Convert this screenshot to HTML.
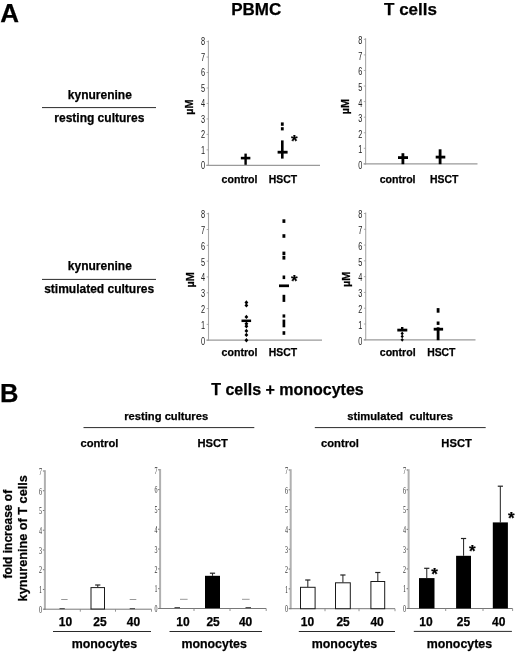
<!DOCTYPE html>
<html lang="en"><head><meta charset="utf-8"><title>Figure</title>
<style>html,body{margin:0;padding:0;background:#fff}body{width:520px;height:654px;overflow:hidden}svg{display:block;filter:blur(0.3px)}text{stroke:#000;stroke-width:0.25px}text.nd{stroke:none}text{font-family:"Liberation Sans",Arial,Helvetica,sans-serif}.serif{font-family:"Liberation Serif","Times New Roman",serif}</style>
</head><body>
<svg width="520" height="654" viewBox="0 0 520 654">
<rect width="520" height="654" fill="#fff"/>
<text x="0.3" y="22" font-size="26" font-weight="bold" text-anchor="start" fill="#000" >A</text>
<text x="0.1" y="402" font-size="25.5" font-weight="bold" text-anchor="start" fill="#000" >B</text>
<text x="256.2" y="14.5" font-size="17" font-weight="bold" text-anchor="middle" fill="#000" >PBMC</text>
<text x="410.5" y="15" font-size="17" font-weight="bold" text-anchor="middle" fill="#000" >T cells</text>
<text x="99.8" y="98.8" font-size="12" font-weight="bold" text-anchor="middle" fill="#000" >kynurenine</text>
<line x1="42" y1="107.6" x2="156" y2="107.6" stroke="#2a2a2a" stroke-width="1"/>
<text x="99.3" y="122.3" font-size="12" font-weight="bold" text-anchor="middle" fill="#000" >resting cultures</text>
<text x="99.8" y="269.7" font-size="12" font-weight="bold" text-anchor="middle" fill="#000" >kynurenine</text>
<line x1="42" y1="279.4" x2="156" y2="279.4" stroke="#2a2a2a" stroke-width="1"/>
<text x="99.2" y="292.9" font-size="12" font-weight="bold" text-anchor="middle" fill="#000" >stimulated cultures</text>
<line x1="208.4" y1="40.6" x2="208.4" y2="165.8" stroke="#a8a8a8" stroke-width="1.1"/>
<line x1="206.4" y1="165.3" x2="320" y2="165.3" stroke="#9a9a9a" stroke-width="1.3"/>
<line x1="206.6" y1="165.3" x2="208.4" y2="165.3" stroke="#999" stroke-width="0.8"/>
<text class="nd" transform="translate(205.10,169.18) scale(0.74,1)" font-size="10" font-weight="normal" text-anchor="end" fill="#222" font-family="Liberation Sans, Arial, Helvetica, sans-serif">0</text>
<line x1="206.6" y1="149.8375" x2="208.4" y2="149.8375" stroke="#999" stroke-width="0.8"/>
<text class="nd" transform="translate(205.10,153.72) scale(0.74,1)" font-size="10" font-weight="normal" text-anchor="end" fill="#222" font-family="Liberation Sans, Arial, Helvetica, sans-serif">1</text>
<line x1="206.6" y1="134.375" x2="208.4" y2="134.375" stroke="#999" stroke-width="0.8"/>
<text class="nd" transform="translate(205.10,138.26) scale(0.74,1)" font-size="10" font-weight="normal" text-anchor="end" fill="#222" font-family="Liberation Sans, Arial, Helvetica, sans-serif">2</text>
<line x1="206.6" y1="118.91250000000001" x2="208.4" y2="118.91250000000001" stroke="#999" stroke-width="0.8"/>
<text class="nd" transform="translate(205.10,122.79) scale(0.74,1)" font-size="10" font-weight="normal" text-anchor="end" fill="#222" font-family="Liberation Sans, Arial, Helvetica, sans-serif">3</text>
<line x1="206.6" y1="103.45" x2="208.4" y2="103.45" stroke="#999" stroke-width="0.8"/>
<text class="nd" transform="translate(205.10,107.33) scale(0.74,1)" font-size="10" font-weight="normal" text-anchor="end" fill="#222" font-family="Liberation Sans, Arial, Helvetica, sans-serif">4</text>
<line x1="206.6" y1="87.9875" x2="208.4" y2="87.9875" stroke="#999" stroke-width="0.8"/>
<text class="nd" transform="translate(205.10,91.87) scale(0.74,1)" font-size="10" font-weight="normal" text-anchor="end" fill="#222" font-family="Liberation Sans, Arial, Helvetica, sans-serif">5</text>
<line x1="206.6" y1="72.525" x2="208.4" y2="72.525" stroke="#999" stroke-width="0.8"/>
<text class="nd" transform="translate(205.10,76.41) scale(0.74,1)" font-size="10" font-weight="normal" text-anchor="end" fill="#222" font-family="Liberation Sans, Arial, Helvetica, sans-serif">6</text>
<line x1="206.6" y1="57.0625" x2="208.4" y2="57.0625" stroke="#999" stroke-width="0.8"/>
<text class="nd" transform="translate(205.10,60.94) scale(0.74,1)" font-size="10" font-weight="normal" text-anchor="end" fill="#222" font-family="Liberation Sans, Arial, Helvetica, sans-serif">7</text>
<line x1="206.6" y1="41.599999999999994" x2="208.4" y2="41.599999999999994" stroke="#999" stroke-width="0.8"/>
<text class="nd" transform="translate(205.10,45.48) scale(0.74,1)" font-size="10" font-weight="normal" text-anchor="end" fill="#222" font-family="Liberation Sans, Arial, Helvetica, sans-serif">8</text>
<text transform="translate(193.10,114.70) rotate(-90) scale(0.95,1)" font-size="11.5" font-weight="bold" text-anchor="start" fill="#000">µM</text>
<rect x="240.85" y="156.80" width="9.50" height="2.60" fill="#000"/>
<rect x="244.40" y="153.60" width="2.40" height="11.20" fill="#000"/>
<rect x="280.90" y="122.40" width="2.80" height="3.40" fill="#000"/>
<rect x="280.90" y="127.20" width="2.80" height="3.20" fill="#000"/>
<rect x="281.00" y="140.40" width="2.60" height="18.20" fill="#000"/>
<rect x="277.60" y="150.80" width="10.00" height="2.80" fill="#000"/>
<text x="294.2" y="147.2" font-size="17" font-weight="bold" text-anchor="middle" fill="#000" >*</text>
<text x="239.5" y="183.2" font-size="10.6" font-weight="bold" text-anchor="middle" fill="#000" >control</text>
<text x="283" y="183.2" font-size="10.4" font-weight="bold" text-anchor="middle" fill="#000" >HSCT</text>
<line x1="365.6" y1="38.3" x2="365.6" y2="164.4" stroke="#a8a8a8" stroke-width="1.1"/>
<line x1="363.6" y1="163.9" x2="477.5" y2="163.9" stroke="#9a9a9a" stroke-width="1.3"/>
<line x1="363.8" y1="163.9" x2="365.6" y2="163.9" stroke="#999" stroke-width="0.8"/>
<text class="nd" transform="translate(362.30,168.88) scale(0.74,1)" font-size="10" font-weight="normal" text-anchor="end" fill="#222" font-family="Liberation Sans, Arial, Helvetica, sans-serif">0</text>
<line x1="363.8" y1="148.32500000000002" x2="365.6" y2="148.32500000000002" stroke="#999" stroke-width="0.8"/>
<text class="nd" transform="translate(362.30,153.31) scale(0.74,1)" font-size="10" font-weight="normal" text-anchor="end" fill="#222" font-family="Liberation Sans, Arial, Helvetica, sans-serif">1</text>
<line x1="363.8" y1="132.75" x2="365.6" y2="132.75" stroke="#999" stroke-width="0.8"/>
<text class="nd" transform="translate(362.30,137.73) scale(0.74,1)" font-size="10" font-weight="normal" text-anchor="end" fill="#222" font-family="Liberation Sans, Arial, Helvetica, sans-serif">2</text>
<line x1="363.8" y1="117.17500000000001" x2="365.6" y2="117.17500000000001" stroke="#999" stroke-width="0.8"/>
<text class="nd" transform="translate(362.30,122.16) scale(0.74,1)" font-size="10" font-weight="normal" text-anchor="end" fill="#222" font-family="Liberation Sans, Arial, Helvetica, sans-serif">3</text>
<line x1="363.8" y1="101.6" x2="365.6" y2="101.6" stroke="#999" stroke-width="0.8"/>
<text class="nd" transform="translate(362.30,106.58) scale(0.74,1)" font-size="10" font-weight="normal" text-anchor="end" fill="#222" font-family="Liberation Sans, Arial, Helvetica, sans-serif">4</text>
<line x1="363.8" y1="86.025" x2="365.6" y2="86.025" stroke="#999" stroke-width="0.8"/>
<text class="nd" transform="translate(362.30,91.01) scale(0.74,1)" font-size="10" font-weight="normal" text-anchor="end" fill="#222" font-family="Liberation Sans, Arial, Helvetica, sans-serif">5</text>
<line x1="363.8" y1="70.45" x2="365.6" y2="70.45" stroke="#999" stroke-width="0.8"/>
<text class="nd" transform="translate(362.30,75.43) scale(0.74,1)" font-size="10" font-weight="normal" text-anchor="end" fill="#222" font-family="Liberation Sans, Arial, Helvetica, sans-serif">6</text>
<line x1="363.8" y1="54.875" x2="365.6" y2="54.875" stroke="#999" stroke-width="0.8"/>
<text class="nd" transform="translate(362.30,59.85) scale(0.74,1)" font-size="10" font-weight="normal" text-anchor="end" fill="#222" font-family="Liberation Sans, Arial, Helvetica, sans-serif">7</text>
<line x1="363.8" y1="39.3" x2="365.6" y2="39.3" stroke="#999" stroke-width="0.8"/>
<text class="nd" transform="translate(362.30,44.28) scale(0.74,1)" font-size="10" font-weight="normal" text-anchor="end" fill="#222" font-family="Liberation Sans, Arial, Helvetica, sans-serif">8</text>
<text transform="translate(349.20,114.30) rotate(-90) scale(0.95,1)" font-size="11.5" font-weight="bold" text-anchor="start" fill="#000">µM</text>
<rect x="398.00" y="156.20" width="10.00" height="2.80" fill="#000"/>
<rect x="401.50" y="153.20" width="2.80" height="11.00" fill="#000"/>
<rect x="435.70" y="155.70" width="9.60" height="2.80" fill="#000"/>
<rect x="438.70" y="149.30" width="2.80" height="14.90" fill="#000"/>
<text x="397.6" y="183.3" font-size="10.6" font-weight="bold" text-anchor="middle" fill="#000" >control</text>
<text x="444.2" y="183.3" font-size="10.4" font-weight="bold" text-anchor="middle" fill="#000" >HSCT</text>
<line x1="208.5" y1="212.7" x2="208.5" y2="340.7" stroke="#a8a8a8" stroke-width="1.1"/>
<line x1="206.5" y1="340.2" x2="322" y2="340.2" stroke="#9a9a9a" stroke-width="1.3"/>
<line x1="206.7" y1="340.2" x2="208.5" y2="340.2" stroke="#999" stroke-width="0.8"/>
<text class="nd" transform="translate(205.20,344.68) scale(0.74,1)" font-size="10" font-weight="normal" text-anchor="end" fill="#222" font-family="Liberation Sans, Arial, Helvetica, sans-serif">0</text>
<line x1="206.7" y1="324.3875" x2="208.5" y2="324.3875" stroke="#999" stroke-width="0.8"/>
<text class="nd" transform="translate(205.20,328.87) scale(0.74,1)" font-size="10" font-weight="normal" text-anchor="end" fill="#222" font-family="Liberation Sans, Arial, Helvetica, sans-serif">1</text>
<line x1="206.7" y1="308.575" x2="208.5" y2="308.575" stroke="#999" stroke-width="0.8"/>
<text class="nd" transform="translate(205.20,313.05) scale(0.74,1)" font-size="10" font-weight="normal" text-anchor="end" fill="#222" font-family="Liberation Sans, Arial, Helvetica, sans-serif">2</text>
<line x1="206.7" y1="292.7625" x2="208.5" y2="292.7625" stroke="#999" stroke-width="0.8"/>
<text class="nd" transform="translate(205.20,297.24) scale(0.74,1)" font-size="10" font-weight="normal" text-anchor="end" fill="#222" font-family="Liberation Sans, Arial, Helvetica, sans-serif">3</text>
<line x1="206.7" y1="276.95" x2="208.5" y2="276.95" stroke="#999" stroke-width="0.8"/>
<text class="nd" transform="translate(205.20,281.43) scale(0.74,1)" font-size="10" font-weight="normal" text-anchor="end" fill="#222" font-family="Liberation Sans, Arial, Helvetica, sans-serif">4</text>
<line x1="206.7" y1="261.1375" x2="208.5" y2="261.1375" stroke="#999" stroke-width="0.8"/>
<text class="nd" transform="translate(205.20,265.62) scale(0.74,1)" font-size="10" font-weight="normal" text-anchor="end" fill="#222" font-family="Liberation Sans, Arial, Helvetica, sans-serif">5</text>
<line x1="206.7" y1="245.325" x2="208.5" y2="245.325" stroke="#999" stroke-width="0.8"/>
<text class="nd" transform="translate(205.20,249.81) scale(0.74,1)" font-size="10" font-weight="normal" text-anchor="end" fill="#222" font-family="Liberation Sans, Arial, Helvetica, sans-serif">6</text>
<line x1="206.7" y1="229.5125" x2="208.5" y2="229.5125" stroke="#999" stroke-width="0.8"/>
<text class="nd" transform="translate(205.20,233.99) scale(0.74,1)" font-size="10" font-weight="normal" text-anchor="end" fill="#222" font-family="Liberation Sans, Arial, Helvetica, sans-serif">7</text>
<line x1="206.7" y1="213.7" x2="208.5" y2="213.7" stroke="#999" stroke-width="0.8"/>
<text class="nd" transform="translate(205.20,218.18) scale(0.74,1)" font-size="10" font-weight="normal" text-anchor="end" fill="#222" font-family="Liberation Sans, Arial, Helvetica, sans-serif">8</text>
<text transform="translate(193.50,287.60) rotate(-90) scale(0.95,1)" font-size="11.5" font-weight="bold" text-anchor="start" fill="#000">µM</text>
<polygon points="246.4,300.30 248.30,302.5 246.4,304.70 244.50,302.5" fill="#000"/>
<polygon points="246.4,303.20 248.30,305.4 246.4,307.60 244.50,305.4" fill="#000"/>
<polygon points="246.4,314.70 248.30,316.9 246.4,319.10 244.50,316.9" fill="#000"/>
<polygon points="246.4,321.50 248.30,323.7 246.4,325.90 244.50,323.7" fill="#000"/>
<polygon points="246.4,324.00 248.30,326.2 246.4,328.40 244.50,326.2" fill="#000"/>
<polygon points="246.4,328.70 248.30,330.9 246.4,333.10 244.50,330.9" fill="#000"/>
<polygon points="246.4,332.70 248.30,334.9 246.4,337.10 244.50,334.9" fill="#000"/>
<polygon points="246.4,338.00 248.30,340.2 246.4,342.40 244.50,340.2" fill="#000"/>
<rect x="241.50" y="319.55" width="9.60" height="2.50" fill="#000"/>
<rect x="282.45" y="219.30" width="2.90" height="3.60" fill="#000"/>
<rect x="282.45" y="234.20" width="2.90" height="3.60" fill="#000"/>
<rect x="282.45" y="251.60" width="2.90" height="3.60" fill="#000"/>
<rect x="282.45" y="256.00" width="2.90" height="3.60" fill="#000"/>
<rect x="282.60" y="275.50" width="2.60" height="3.60" fill="#000"/>
<rect x="279.00" y="284.45" width="10.00" height="2.70" fill="#000"/>
<rect x="282.55" y="294.80" width="2.70" height="7.10" fill="#000"/>
<rect x="282.55" y="314.40" width="2.70" height="3.20" fill="#000"/>
<rect x="282.55" y="319.60" width="2.70" height="7.70" fill="#000"/>
<rect x="282.55" y="331.20" width="2.70" height="3.60" fill="#000"/>
<text x="294.3" y="287.4" font-size="17" font-weight="bold" text-anchor="middle" fill="#000" >*</text>
<text x="239.5" y="355.7" font-size="10.6" font-weight="bold" text-anchor="middle" fill="#000" >control</text>
<text x="283" y="355.7" font-size="10.4" font-weight="bold" text-anchor="middle" fill="#000" >HSCT</text>
<line x1="365.7" y1="212.5" x2="365.7" y2="340.3" stroke="#a8a8a8" stroke-width="1.1"/>
<line x1="363.7" y1="339.8" x2="475.5" y2="339.8" stroke="#9a9a9a" stroke-width="1.3"/>
<line x1="363.9" y1="339.8" x2="365.7" y2="339.8" stroke="#999" stroke-width="0.8"/>
<text class="nd" transform="translate(362.40,344.58) scale(0.74,1)" font-size="10" font-weight="normal" text-anchor="end" fill="#222" font-family="Liberation Sans, Arial, Helvetica, sans-serif">0</text>
<line x1="363.9" y1="324.0125" x2="365.7" y2="324.0125" stroke="#999" stroke-width="0.8"/>
<text class="nd" transform="translate(362.40,328.79) scale(0.74,1)" font-size="10" font-weight="normal" text-anchor="end" fill="#222" font-family="Liberation Sans, Arial, Helvetica, sans-serif">1</text>
<line x1="363.9" y1="308.225" x2="365.7" y2="308.225" stroke="#999" stroke-width="0.8"/>
<text class="nd" transform="translate(362.40,313.00) scale(0.74,1)" font-size="10" font-weight="normal" text-anchor="end" fill="#222" font-family="Liberation Sans, Arial, Helvetica, sans-serif">2</text>
<line x1="363.9" y1="292.4375" x2="365.7" y2="292.4375" stroke="#999" stroke-width="0.8"/>
<text class="nd" transform="translate(362.40,297.22) scale(0.74,1)" font-size="10" font-weight="normal" text-anchor="end" fill="#222" font-family="Liberation Sans, Arial, Helvetica, sans-serif">3</text>
<line x1="363.9" y1="276.65" x2="365.7" y2="276.65" stroke="#999" stroke-width="0.8"/>
<text class="nd" transform="translate(362.40,281.43) scale(0.74,1)" font-size="10" font-weight="normal" text-anchor="end" fill="#222" font-family="Liberation Sans, Arial, Helvetica, sans-serif">4</text>
<line x1="363.9" y1="260.8625" x2="365.7" y2="260.8625" stroke="#999" stroke-width="0.8"/>
<text class="nd" transform="translate(362.40,265.64) scale(0.74,1)" font-size="10" font-weight="normal" text-anchor="end" fill="#222" font-family="Liberation Sans, Arial, Helvetica, sans-serif">5</text>
<line x1="363.9" y1="245.075" x2="365.7" y2="245.075" stroke="#999" stroke-width="0.8"/>
<text class="nd" transform="translate(362.40,249.85) scale(0.74,1)" font-size="10" font-weight="normal" text-anchor="end" fill="#222" font-family="Liberation Sans, Arial, Helvetica, sans-serif">6</text>
<line x1="363.9" y1="229.2875" x2="365.7" y2="229.2875" stroke="#999" stroke-width="0.8"/>
<text class="nd" transform="translate(362.40,234.07) scale(0.74,1)" font-size="10" font-weight="normal" text-anchor="end" fill="#222" font-family="Liberation Sans, Arial, Helvetica, sans-serif">7</text>
<line x1="363.9" y1="213.5" x2="365.7" y2="213.5" stroke="#999" stroke-width="0.8"/>
<text class="nd" transform="translate(362.40,218.28) scale(0.74,1)" font-size="10" font-weight="normal" text-anchor="end" fill="#222" font-family="Liberation Sans, Arial, Helvetica, sans-serif">8</text>
<text transform="translate(350.20,287.10) rotate(-90) scale(0.95,1)" font-size="11.5" font-weight="bold" text-anchor="start" fill="#000">µM</text>
<rect x="397.30" y="328.70" width="10.00" height="2.80" fill="#000"/>
<rect x="401.00" y="327.00" width="2.40" height="2.40" fill="#000"/>
<polygon points="402.2,331.60 403.80,333.5 402.2,335.40 400.60,333.5" fill="#000"/>
<polygon points="402.2,334.50 403.80,336.4 402.2,338.30 400.60,336.4" fill="#000"/>
<polygon points="402.2,337.90 403.80,339.8 402.2,341.70 400.60,339.8" fill="#000"/>
<rect x="436.70" y="308.10" width="2.80" height="4.60" fill="#000"/>
<rect x="436.70" y="321.50" width="2.80" height="3.40" fill="#000"/>
<rect x="433.70" y="327.80" width="9.40" height="2.80" fill="#000"/>
<rect x="436.70" y="327.30" width="2.80" height="12.90" fill="#000"/>
<text x="397.7" y="355.5" font-size="10.6" font-weight="bold" text-anchor="middle" fill="#000" >control</text>
<text x="441.3" y="355.5" font-size="10.4" font-weight="bold" text-anchor="middle" fill="#000" >HSCT</text>
<text x="287.5" y="395" font-size="16" font-weight="bold" text-anchor="middle" fill="#000" >T cells + monocytes</text>
<text x="166.2" y="419.6" font-size="11.2" font-weight="bold" text-anchor="middle" fill="#000" >resting cultures</text>
<line x1="83.5" y1="427.6" x2="254.3" y2="427.6" stroke="#2a2a2a" stroke-width="1"/>
<text x="400.1" y="419.6" font-size="11.2" font-weight="bold" text-anchor="middle" fill="#000" xml:space="preserve">stimulated  cultures</text>
<line x1="314.8" y1="427.6" x2="485.7" y2="427.6" stroke="#2a2a2a" stroke-width="1"/>
<text x="99.4" y="447.3" font-size="11.2" font-weight="bold" text-anchor="middle" fill="#000" >control</text>
<text x="212.7" y="447.3" font-size="11.2" font-weight="bold" text-anchor="middle" fill="#000" >HSCT</text>
<text x="340" y="447.3" font-size="11.2" font-weight="bold" text-anchor="middle" fill="#000" >control</text>
<text x="456.6" y="447.3" font-size="11.2" font-weight="bold" text-anchor="middle" fill="#000" >HSCT</text>
<text transform="translate(11.60,534.20) rotate(-90) scale(1.0,1)" font-size="12" font-weight="bold" text-anchor="middle" fill="#000">fold increase of</text>
<text transform="translate(26.90,538.30) rotate(-90) scale(1.0,1)" font-size="12.7" font-weight="bold" text-anchor="middle" fill="#000">kynurenine of T cells</text>
<line x1="44.9" y1="470.2" x2="44.9" y2="609.7" stroke="#b0b0b0" stroke-width="2"/>
<line x1="44" y1="609.2" x2="151.5" y2="609.2" stroke="#777" stroke-width="1"/>
<line x1="42.9" y1="609.2" x2="44.3" y2="609.2" stroke="#666" stroke-width="0.9"/>
<text class="nd" transform="translate(42.10,612.98) scale(0.6,1)" font-size="10" font-weight="normal" text-anchor="end" fill="#333" style="font-family:Liberation Serif,Times New Roman,serif">0</text>
<line x1="42.9" y1="589.4571428571429" x2="44.3" y2="589.4571428571429" stroke="#666" stroke-width="0.9"/>
<text class="nd" transform="translate(42.10,593.24) scale(0.6,1)" font-size="10" font-weight="normal" text-anchor="end" fill="#333" style="font-family:Liberation Serif,Times New Roman,serif">1</text>
<line x1="42.9" y1="569.7142857142858" x2="44.3" y2="569.7142857142858" stroke="#666" stroke-width="0.9"/>
<text class="nd" transform="translate(42.10,573.49) scale(0.6,1)" font-size="10" font-weight="normal" text-anchor="end" fill="#333" style="font-family:Liberation Serif,Times New Roman,serif">2</text>
<line x1="42.9" y1="549.9714285714285" x2="44.3" y2="549.9714285714285" stroke="#666" stroke-width="0.9"/>
<text class="nd" transform="translate(42.10,553.75) scale(0.6,1)" font-size="10" font-weight="normal" text-anchor="end" fill="#333" style="font-family:Liberation Serif,Times New Roman,serif">3</text>
<line x1="42.9" y1="530.2285714285714" x2="44.3" y2="530.2285714285714" stroke="#666" stroke-width="0.9"/>
<text class="nd" transform="translate(42.10,534.01) scale(0.6,1)" font-size="10" font-weight="normal" text-anchor="end" fill="#333" style="font-family:Liberation Serif,Times New Roman,serif">4</text>
<line x1="42.9" y1="510.48571428571427" x2="44.3" y2="510.48571428571427" stroke="#666" stroke-width="0.9"/>
<text class="nd" transform="translate(42.10,514.27) scale(0.6,1)" font-size="10" font-weight="normal" text-anchor="end" fill="#333" style="font-family:Liberation Serif,Times New Roman,serif">5</text>
<line x1="42.9" y1="490.74285714285713" x2="44.3" y2="490.74285714285713" stroke="#666" stroke-width="0.9"/>
<text class="nd" transform="translate(42.10,494.52) scale(0.6,1)" font-size="10" font-weight="normal" text-anchor="end" fill="#333" style="font-family:Liberation Serif,Times New Roman,serif">6</text>
<line x1="42.9" y1="471.0" x2="44.3" y2="471.0" stroke="#666" stroke-width="0.9"/>
<text class="nd" transform="translate(42.10,474.78) scale(0.6,1)" font-size="10" font-weight="normal" text-anchor="end" fill="#333" style="font-family:Liberation Serif,Times New Roman,serif">7</text>
<line x1="80.3" y1="609.2" x2="80.3" y2="611.7" stroke="#888" stroke-width="0.9"/>
<line x1="115.5" y1="609.2" x2="115.5" y2="611.7" stroke="#888" stroke-width="0.9"/>
<line x1="151.5" y1="609.2" x2="151.5" y2="611.7" stroke="#888" stroke-width="0.9"/>
<line x1="97.75" y1="585" x2="97.75" y2="587.3" stroke="#333" stroke-width="1.1"/>
<line x1="95.15" y1="585" x2="100.35" y2="585" stroke="#222" stroke-width="1.2"/>
<rect x="91.00" y="587.60" width="13.50" height="21.40" fill="#fff" stroke="#1a1a1a" stroke-width="1"/>
<line x1="61.2" y1="599.5" x2="67.6" y2="599.5" stroke="#999" stroke-width="1"/>
<line x1="59.5" y1="608.6" x2="64.8" y2="608.6" stroke="#555" stroke-width="1.2"/>
<line x1="129.7" y1="599.5" x2="136.3" y2="599.5" stroke="#999" stroke-width="1"/>
<line x1="129.7" y1="608.6" x2="135" y2="608.6" stroke="#555" stroke-width="1.2"/>
<text x="65.4" y="626.4" font-size="12" font-weight="bold" text-anchor="middle" fill="#000" >10</text>
<text x="100" y="626.4" font-size="12" font-weight="bold" text-anchor="middle" fill="#000" >25</text>
<text x="133.4" y="626.4" font-size="12" font-weight="bold" text-anchor="middle" fill="#000" >40</text>
<line x1="53" y1="631.5" x2="151" y2="631.5" stroke="#2a2a2a" stroke-width="1"/>
<text x="104.4" y="648" font-size="12.4" font-weight="bold" text-anchor="middle" fill="#000" >monocytes</text>
<line x1="160.1" y1="469.0" x2="160.1" y2="609.0" stroke="#b0b0b0" stroke-width="2"/>
<line x1="159.2" y1="608.5" x2="266.2" y2="608.5" stroke="#777" stroke-width="1"/>
<line x1="158.1" y1="608.5" x2="159.5" y2="608.5" stroke="#666" stroke-width="0.9"/>
<text class="nd" transform="translate(157.40,612.28) scale(0.6,1)" font-size="10" font-weight="normal" text-anchor="end" fill="#333" style="font-family:Liberation Serif,Times New Roman,serif">0</text>
<line x1="158.1" y1="588.6857142857143" x2="159.5" y2="588.6857142857143" stroke="#666" stroke-width="0.9"/>
<text class="nd" transform="translate(157.40,592.47) scale(0.6,1)" font-size="10" font-weight="normal" text-anchor="end" fill="#333" style="font-family:Liberation Serif,Times New Roman,serif">1</text>
<line x1="158.1" y1="568.8714285714286" x2="159.5" y2="568.8714285714286" stroke="#666" stroke-width="0.9"/>
<text class="nd" transform="translate(157.40,572.65) scale(0.6,1)" font-size="10" font-weight="normal" text-anchor="end" fill="#333" style="font-family:Liberation Serif,Times New Roman,serif">2</text>
<line x1="158.1" y1="549.0571428571428" x2="159.5" y2="549.0571428571428" stroke="#666" stroke-width="0.9"/>
<text class="nd" transform="translate(157.40,552.84) scale(0.6,1)" font-size="10" font-weight="normal" text-anchor="end" fill="#333" style="font-family:Liberation Serif,Times New Roman,serif">3</text>
<line x1="158.1" y1="529.2428571428571" x2="159.5" y2="529.2428571428571" stroke="#666" stroke-width="0.9"/>
<text class="nd" transform="translate(157.40,533.02) scale(0.6,1)" font-size="10" font-weight="normal" text-anchor="end" fill="#333" style="font-family:Liberation Serif,Times New Roman,serif">4</text>
<line x1="158.1" y1="509.42857142857144" x2="159.5" y2="509.42857142857144" stroke="#666" stroke-width="0.9"/>
<text class="nd" transform="translate(157.40,513.21) scale(0.6,1)" font-size="10" font-weight="normal" text-anchor="end" fill="#333" style="font-family:Liberation Serif,Times New Roman,serif">5</text>
<line x1="158.1" y1="489.61428571428576" x2="159.5" y2="489.61428571428576" stroke="#666" stroke-width="0.9"/>
<text class="nd" transform="translate(157.40,493.39) scale(0.6,1)" font-size="10" font-weight="normal" text-anchor="end" fill="#333" style="font-family:Liberation Serif,Times New Roman,serif">6</text>
<line x1="158.1" y1="469.8" x2="159.5" y2="469.8" stroke="#666" stroke-width="0.9"/>
<text class="nd" transform="translate(157.40,473.58) scale(0.6,1)" font-size="10" font-weight="normal" text-anchor="end" fill="#333" style="font-family:Liberation Serif,Times New Roman,serif">7</text>
<line x1="194" y1="608.5" x2="194" y2="611.0" stroke="#888" stroke-width="0.9"/>
<line x1="230" y1="608.5" x2="230" y2="611.0" stroke="#888" stroke-width="0.9"/>
<line x1="266.2" y1="608.5" x2="266.2" y2="611.0" stroke="#888" stroke-width="0.9"/>
<line x1="212.5" y1="573.2" x2="212.5" y2="575.8" stroke="#333" stroke-width="1.1"/>
<line x1="209.9" y1="573.2" x2="215.1" y2="573.2" stroke="#222" stroke-width="1.2"/>
<rect x="205.00" y="575.80" width="15.00" height="32.40" fill="#000"/>
<line x1="180" y1="599.3" x2="187.6" y2="599.3" stroke="#999" stroke-width="1"/>
<line x1="174.5" y1="607.6" x2="180" y2="607.6" stroke="#555" stroke-width="1.2"/>
<line x1="242" y1="599.3" x2="249.6" y2="599.3" stroke="#999" stroke-width="1"/>
<line x1="245.5" y1="607.6" x2="251" y2="607.6" stroke="#555" stroke-width="1.2"/>
<text x="182.9" y="626.3" font-size="12" font-weight="bold" text-anchor="middle" fill="#000" >10</text>
<text x="213.1" y="626.3" font-size="12" font-weight="bold" text-anchor="middle" fill="#000" >25</text>
<text x="245.6" y="626.3" font-size="12" font-weight="bold" text-anchor="middle" fill="#000" >40</text>
<line x1="169.5" y1="631.5" x2="262" y2="631.5" stroke="#2a2a2a" stroke-width="1"/>
<text x="214.1" y="648" font-size="12.4" font-weight="bold" text-anchor="middle" fill="#000" >monocytes</text>
<line x1="290.7" y1="469.2" x2="290.7" y2="609.2" stroke="#b0b0b0" stroke-width="2"/>
<line x1="289.8" y1="608.7" x2="395" y2="608.7" stroke="#777" stroke-width="1"/>
<line x1="288.7" y1="608.7" x2="290.09999999999997" y2="608.7" stroke="#666" stroke-width="0.9"/>
<text class="nd" transform="translate(288.00,612.48) scale(0.6,1)" font-size="10" font-weight="normal" text-anchor="end" fill="#333" style="font-family:Liberation Serif,Times New Roman,serif">0</text>
<line x1="288.7" y1="588.8857142857144" x2="290.09999999999997" y2="588.8857142857144" stroke="#666" stroke-width="0.9"/>
<text class="nd" transform="translate(288.00,592.67) scale(0.6,1)" font-size="10" font-weight="normal" text-anchor="end" fill="#333" style="font-family:Liberation Serif,Times New Roman,serif">1</text>
<line x1="288.7" y1="569.0714285714286" x2="290.09999999999997" y2="569.0714285714286" stroke="#666" stroke-width="0.9"/>
<text class="nd" transform="translate(288.00,572.85) scale(0.6,1)" font-size="10" font-weight="normal" text-anchor="end" fill="#333" style="font-family:Liberation Serif,Times New Roman,serif">2</text>
<line x1="288.7" y1="549.2571428571429" x2="290.09999999999997" y2="549.2571428571429" stroke="#666" stroke-width="0.9"/>
<text class="nd" transform="translate(288.00,553.04) scale(0.6,1)" font-size="10" font-weight="normal" text-anchor="end" fill="#333" style="font-family:Liberation Serif,Times New Roman,serif">3</text>
<line x1="288.7" y1="529.4428571428572" x2="290.09999999999997" y2="529.4428571428572" stroke="#666" stroke-width="0.9"/>
<text class="nd" transform="translate(288.00,533.22) scale(0.6,1)" font-size="10" font-weight="normal" text-anchor="end" fill="#333" style="font-family:Liberation Serif,Times New Roman,serif">4</text>
<line x1="288.7" y1="509.62857142857143" x2="290.09999999999997" y2="509.62857142857143" stroke="#666" stroke-width="0.9"/>
<text class="nd" transform="translate(288.00,513.41) scale(0.6,1)" font-size="10" font-weight="normal" text-anchor="end" fill="#333" style="font-family:Liberation Serif,Times New Roman,serif">5</text>
<line x1="288.7" y1="489.8142857142857" x2="290.09999999999997" y2="489.8142857142857" stroke="#666" stroke-width="0.9"/>
<text class="nd" transform="translate(288.00,493.59) scale(0.6,1)" font-size="10" font-weight="normal" text-anchor="end" fill="#333" style="font-family:Liberation Serif,Times New Roman,serif">6</text>
<line x1="288.7" y1="470.0" x2="290.09999999999997" y2="470.0" stroke="#666" stroke-width="0.9"/>
<text class="nd" transform="translate(288.00,473.78) scale(0.6,1)" font-size="10" font-weight="normal" text-anchor="end" fill="#333" style="font-family:Liberation Serif,Times New Roman,serif">7</text>
<line x1="325" y1="608.7" x2="325" y2="611.2" stroke="#888" stroke-width="0.9"/>
<line x1="359" y1="608.7" x2="359" y2="611.2" stroke="#888" stroke-width="0.9"/>
<line x1="395" y1="608.7" x2="395" y2="611.2" stroke="#888" stroke-width="0.9"/>
<line x1="307.8" y1="580" x2="307.8" y2="587" stroke="#333" stroke-width="1.1"/>
<line x1="305.2" y1="580" x2="310.40000000000003" y2="580" stroke="#222" stroke-width="1.2"/>
<rect x="300.50" y="587.30" width="14.60" height="21.40" fill="#fff" stroke="#1a1a1a" stroke-width="1"/>
<line x1="342.9" y1="575" x2="342.9" y2="582.5" stroke="#333" stroke-width="1.1"/>
<line x1="340.29999999999995" y1="575" x2="345.5" y2="575" stroke="#222" stroke-width="1.2"/>
<rect x="335.50" y="582.80" width="14.80" height="25.90" fill="#fff" stroke="#1a1a1a" stroke-width="1"/>
<line x1="377.79999999999995" y1="572.5" x2="377.79999999999995" y2="581.2" stroke="#333" stroke-width="1.1"/>
<line x1="375.19999999999993" y1="572.5" x2="380.4" y2="572.5" stroke="#222" stroke-width="1.2"/>
<rect x="370.90" y="581.50" width="13.80" height="27.20" fill="#fff" stroke="#1a1a1a" stroke-width="1"/>
<text x="307.5" y="625.8" font-size="12" font-weight="bold" text-anchor="middle" fill="#000" >10</text>
<text x="343.1" y="625.8" font-size="12" font-weight="bold" text-anchor="middle" fill="#000" >25</text>
<text x="377.1" y="625.8" font-size="12" font-weight="bold" text-anchor="middle" fill="#000" >40</text>
<line x1="298.8" y1="631.5" x2="395" y2="631.5" stroke="#2a2a2a" stroke-width="1"/>
<text x="344.5" y="648" font-size="12.4" font-weight="bold" text-anchor="middle" fill="#000" >monocytes</text>
<line x1="408.6" y1="469.2" x2="408.6" y2="609.0" stroke="#b0b0b0" stroke-width="2"/>
<line x1="407.7" y1="608.5" x2="512.6" y2="608.5" stroke="#777" stroke-width="1"/>
<line x1="406.6" y1="608.5" x2="408.0" y2="608.5" stroke="#666" stroke-width="0.9"/>
<text class="nd" transform="translate(406.10,612.28) scale(0.6,1)" font-size="10" font-weight="normal" text-anchor="end" fill="#333" style="font-family:Liberation Serif,Times New Roman,serif">0</text>
<line x1="406.6" y1="588.7142857142857" x2="408.0" y2="588.7142857142857" stroke="#666" stroke-width="0.9"/>
<text class="nd" transform="translate(406.10,592.49) scale(0.6,1)" font-size="10" font-weight="normal" text-anchor="end" fill="#333" style="font-family:Liberation Serif,Times New Roman,serif">1</text>
<line x1="406.6" y1="568.9285714285714" x2="408.0" y2="568.9285714285714" stroke="#666" stroke-width="0.9"/>
<text class="nd" transform="translate(406.10,572.71) scale(0.6,1)" font-size="10" font-weight="normal" text-anchor="end" fill="#333" style="font-family:Liberation Serif,Times New Roman,serif">2</text>
<line x1="406.6" y1="549.1428571428571" x2="408.0" y2="549.1428571428571" stroke="#666" stroke-width="0.9"/>
<text class="nd" transform="translate(406.10,552.92) scale(0.6,1)" font-size="10" font-weight="normal" text-anchor="end" fill="#333" style="font-family:Liberation Serif,Times New Roman,serif">3</text>
<line x1="406.6" y1="529.3571428571429" x2="408.0" y2="529.3571428571429" stroke="#666" stroke-width="0.9"/>
<text class="nd" transform="translate(406.10,533.14) scale(0.6,1)" font-size="10" font-weight="normal" text-anchor="end" fill="#333" style="font-family:Liberation Serif,Times New Roman,serif">4</text>
<line x1="406.6" y1="509.57142857142856" x2="408.0" y2="509.57142857142856" stroke="#666" stroke-width="0.9"/>
<text class="nd" transform="translate(406.10,513.35) scale(0.6,1)" font-size="10" font-weight="normal" text-anchor="end" fill="#333" style="font-family:Liberation Serif,Times New Roman,serif">5</text>
<line x1="406.6" y1="489.7857142857143" x2="408.0" y2="489.7857142857143" stroke="#666" stroke-width="0.9"/>
<text class="nd" transform="translate(406.10,493.57) scale(0.6,1)" font-size="10" font-weight="normal" text-anchor="end" fill="#333" style="font-family:Liberation Serif,Times New Roman,serif">6</text>
<line x1="406.6" y1="470.0" x2="408.0" y2="470.0" stroke="#666" stroke-width="0.9"/>
<text class="nd" transform="translate(406.10,473.78) scale(0.6,1)" font-size="10" font-weight="normal" text-anchor="end" fill="#333" style="font-family:Liberation Serif,Times New Roman,serif">7</text>
<line x1="445.7" y1="608.5" x2="445.7" y2="611.0" stroke="#888" stroke-width="0.9"/>
<line x1="483" y1="608.5" x2="483" y2="611.0" stroke="#888" stroke-width="0.9"/>
<line x1="512.6" y1="608.5" x2="512.6" y2="611.0" stroke="#888" stroke-width="0.9"/>
<line x1="426.75" y1="568.3" x2="426.75" y2="578.1" stroke="#333" stroke-width="1.1"/>
<line x1="424.15" y1="568.3" x2="429.35" y2="568.3" stroke="#222" stroke-width="1.2"/>
<rect x="419.00" y="578.10" width="15.50" height="30.30" fill="#000"/>
<line x1="463.55" y1="538.5" x2="463.55" y2="555.8" stroke="#333" stroke-width="1.1"/>
<line x1="460.95" y1="538.5" x2="466.15000000000003" y2="538.5" stroke="#222" stroke-width="1.2"/>
<rect x="456.10" y="555.80" width="14.90" height="52.60" fill="#000"/>
<line x1="500.35" y1="486.2" x2="500.35" y2="522.4" stroke="#333" stroke-width="1.1"/>
<line x1="497.75" y1="486.2" x2="502.95000000000005" y2="486.2" stroke="#222" stroke-width="1.2"/>
<rect x="492.80" y="522.40" width="15.10" height="86.00" fill="#000"/>
<text x="434.6" y="579.6" font-size="17" font-weight="bold" text-anchor="middle" fill="#000" >*</text>
<text x="472.3" y="557.3" font-size="17" font-weight="bold" text-anchor="middle" fill="#000" >*</text>
<text x="511.2" y="524.2" font-size="17" font-weight="bold" text-anchor="middle" fill="#000" >*</text>
<text x="426" y="626.2" font-size="12" font-weight="bold" text-anchor="middle" fill="#000" >10</text>
<text x="463.4" y="626.2" font-size="12" font-weight="bold" text-anchor="middle" fill="#000" >25</text>
<text x="498.8" y="626.2" font-size="12" font-weight="bold" text-anchor="middle" fill="#000" >40</text>
<line x1="413.8" y1="631.4" x2="511.9" y2="631.4" stroke="#2a2a2a" stroke-width="1"/>
<text x="459.4" y="648.1" font-size="12.4" font-weight="bold" text-anchor="middle" fill="#000" >monocytes</text>
</svg>
</body></html>
